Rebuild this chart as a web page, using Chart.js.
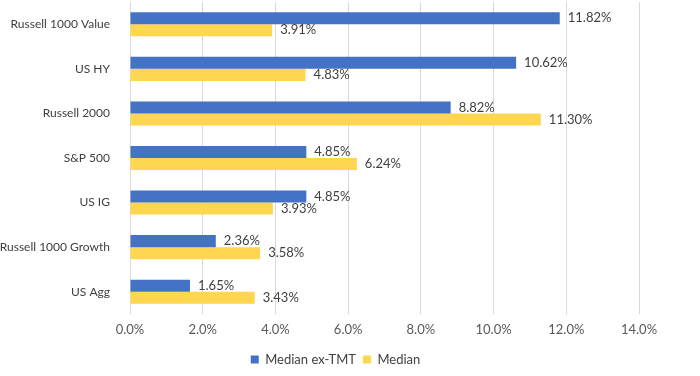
<!DOCTYPE html>
<html>
<head>
<meta charset="utf-8">
<script src="https://cdn.jsdelivr.net/npm/chart.js@4"></script>
<style>
  html, body { margin: 0; padding: 0; background: #fff; }
  #wrap { width: 700px; height: 376px; }
</style>
</head>
<body>
<div id="wrap"><canvas id="chart"></canvas></div>
<script>
const categories = ["Russell 1000 Value", "US HY", "Russell 2000", "S&P 500", "US IG", "Russell 1000 Growth", "US Agg"];
const medianExTmt = [11.82, 10.62, 8.82, 4.85, 4.85, 2.36, 1.65];
const median = [3.91, 4.83, 11.30, 6.24, 3.93, 3.58, 3.43];
const seriesNames = ["Median ex-TMT", "Median"];
const seriesColors = ["#4472C4", "#FFD64F"];

const fontFamily = "Lato, 'Open Sans', sans-serif";

// draw value labels to the right of each bar
const valueLabels = {
    id: "valueLabels",
    afterDatasetsDraw(chart) {
        const ctx = chart.ctx;
        ctx.save();
        ctx.font = "13px " + fontFamily;
        ctx.fillStyle = "#404040";
        ctx.textAlign = "left";
        ctx.textBaseline = "middle";
        chart.data.datasets.forEach((ds, i) => {
            chart.getDatasetMeta(i).data.forEach((bar, j) => {
                ctx.fillText(ds.data[j].toFixed(2) + "%", bar.x + 8, bar.y);
            });
        });
        ctx.restore();
    }
};

// legend sits centred on the whole canvas, not just the padded area
const legendShift = {
    id: "legendShift",
    afterLayout(chart) {
        chart.legend.left += 16;
        chart.legend.right += 16;
    }
};

new Chart(document.getElementById("chart"), {
    type: "bar",
    data: {
        labels: categories,
        datasets: [
            { label: seriesNames[0], data: medianExTmt, backgroundColor: seriesColors[0] },
            { label: seriesNames[1], data: median, backgroundColor: seriesColors[1] }
        ]
    },
    options: {
        indexAxis: "y",
        responsive: true,
        maintainAspectRatio: false,
        animation: false,
        datasets: { bar: { categoryPercentage: 0.54, barPercentage: 1.0 } },
        layout: { padding: { top: 2, right: 61, bottom: 0, left: 0 } },
        scales: {
            x: {
                min: 0,
                max: 14,
                ticks: {
                    stepSize: 2,
                    color: "#595959",
                    font: { family: fontFamily, size: 13 },
                    padding: 8,
                    callback: v => v.toFixed(1) + "%"
                },
                grid: { color: "#d9d9d9", drawTicks: false },
                border: { display: false },
                afterFit: s => { s.height = 32; }
            },
            y: {
                ticks: {
                    color: "#404040",
                    font: { family: fontFamily, size: 12 },
                    padding: 12
                },
                grid: { display: false },
                border: { display: false },
                afterFit: s => { s.width = 130; s.paddingTop = 0; s.paddingBottom = 0; }
            }
        },
        plugins: {
            legend: {
                position: "bottom",
                labels: {
                    boxWidth: 8,
                    boxHeight: 8,
                    color: "#404040",
                    font: { family: fontFamily, size: 13 },
                    padding: 7
                }
            },
            tooltip: { enabled: false }
        }
    },
    plugins: [valueLabels, legendShift]
});
</script>
</body>
</html>
